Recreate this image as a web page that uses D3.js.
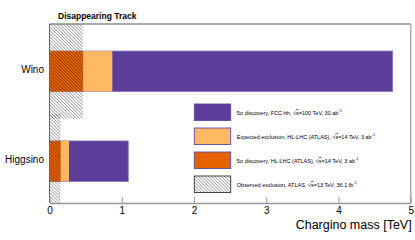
<!DOCTYPE html>
<html>
<head>
<meta charset="utf-8">
<script src="https://cdn.jsdelivr.net/npm/d3@7"></script>
<style>
  body { margin: 0; background: #fff; }
  svg { display: block; font-family: "Liberation Sans", Arial, Helvetica, sans-serif; }
</style>
</head>
<body>
<script>
// chart values (chargino mass reach in TeV)
var categories = ['Wino', 'Higgsino'];
var fccDiscovery = [4.75, 1.09];      // 5 sigma discovery, FCC-hh
var hllhcExclusion = [0.87, 0.27];    // expected exclusion, HL-LHC
var hllhcDiscovery = [0.465, 0.155];  // 5 sigma discovery, HL-LHC
var atlasObserved = [0.46, 0.15];     // observed exclusion, ATLAS 13 TeV
var xTicks = [0, 1, 2, 3, 4, 5];

var legendLabels = ['5\u03c3 discovery, FCC-hh, ', 'Expected exclusion, HL-LHC (ATLAS), ',
                    '5\u03c3 discovery, HL-LHC (ATLAS), ', 'Observed exclusion, ATLAS, '];
var legendEnergy = ['100', '14', '14', '13'];
var legendLumi = ['30 ab', '3 ab', '3 ab', '36.1 fb'];
var legendFills = ['#5e3c99', '#fdb863', '#e66101', 'url(#hatch)'];

var width = 415,
    height = 240,
    margin = { top: 24, right: 4.3, bottom: 37, left: 49.5 };

var svg = d3.select('body').append('svg')
    .attr('width', width)
    .attr('height', height);

var innerW = width - margin.left - margin.right,
    innerH = height - margin.top - margin.bottom;

var xScale = d3.scaleLinear().domain([0, 5]).range([0, innerW]);
// categories sit on integer positions, Higgsino at 0 and Wino at 1
var yScale = d3.scaleLinear().domain([-0.465, 1.526]).range([innerH, 0]);
var catPos = function(i) { return categories.length - 1 - i; };
var barHalf = 0.225, bandHalf = 0.525;

var defs = svg.append('defs');
defs.append('pattern')
    .attr('id', 'hatch')
    .attr('patternUnits', 'userSpaceOnUse')
    .attr('width', 2.3).attr('height', 2.3)
    .attr('patternTransform', 'rotate(-45)')
  .append('line')
    .attr('x1', 0).attr('y1', -1).attr('x2', 0).attr('y2', 4)
    .attr('stroke', '#000').attr('stroke-width', 0.6);

defs.append('clipPath').attr('id', 'plotclip')
  .append('rect').attr('width', innerW).attr('height', innerH);

var g = svg.append('g')
    .attr('transform', 'translate(' + margin.left + ',' + margin.top + ')');

var plot = g.append('g').attr('clip-path', 'url(#plotclip)');

function drawBars(values, fill, stroke) {
  plot.selectAll(null)
    .data(values)
    .enter().append('rect')
    .attr('x', xScale(0))
    .attr('y', function(d, i) { return yScale(catPos(i) + barHalf); })
    .attr('width', function(d) { return xScale(d) - xScale(0); })
    .attr('height', function(d, i) { return yScale(catPos(i) - barHalf) - yScale(catPos(i) + barHalf); })
    .attr('fill', fill)
    .attr('stroke', stroke || 'none')
    .attr('stroke-width', 0.8);
}

drawBars(fccDiscovery, '#5e3c99', '#8270c2');
drawBars(hllhcExclusion, '#fdb863');
drawBars(hllhcDiscovery, '#e66101');

// hatched observed exclusion covers the whole category band
plot.selectAll('.obs')
  .data(atlasObserved)
  .enter().append('rect')
  .attr('class', 'obs')
  .attr('x', xScale(0))
  .attr('y', function(d, i) { return yScale(catPos(i) + bandHalf); })
  .attr('width', function(d) { return xScale(d) - xScale(0); })
  .attr('height', function(d, i) { return yScale(catPos(i) - bandHalf) - yScale(catPos(i) + bandHalf); })
  .attr('fill', 'url(#hatch)');

// frame
g.append('line').attr('x1', 0).attr('x2', innerW).attr('y1', 0).attr('y2', 0)
  .attr('stroke', '#555').attr('stroke-width', 1);
g.append('line').attr('x1', 0).attr('x2', 0).attr('y1', 0).attr('y2', innerH)
  .attr('stroke', '#666').attr('stroke-width', 1);
g.append('line').attr('x1', innerW).attr('x2', innerW).attr('y1', 0).attr('y2', innerH)
  .attr('stroke', '#aaa').attr('stroke-width', 1.5);

// x axis, ticks pointing inward
var xAxis = d3.axisBottom(xScale).tickValues(xTicks).tickFormat(d3.format('d'))
    .tickSizeInner(-6).tickSizeOuter(0).tickPadding(4);
var ax = g.append('g')
    .attr('transform', 'translate(0,' + innerH + ')')
    .call(xAxis);
ax.select('.domain').attr('stroke', '#999').attr('stroke-width', 1.5);
ax.selectAll('.tick line').attr('stroke', '#999').attr('stroke-width', 1);
ax.selectAll('.tick text')
    .attr('font-size', 10).attr('fill', '#000')
    .attr('font-family', '"Liberation Sans", Arial, sans-serif');

svg.append('text')
    .attr('x', width - margin.right + 1)
    .attr('y', 229)
    .attr('text-anchor', 'end')
    .attr('font-size', 12.5)
    .text('Chargino mass [TeV]');

// category labels
g.selectAll('.cat')
  .data(categories)
  .enter().append('text')
  .attr('class', 'cat')
  .attr('x', -5.5)
  .attr('y', function(d, i) { return yScale(catPos(i)) + 2; })
  .attr('text-anchor', 'end')
  .attr('font-size', 10)
  .text(function(d) { return d; });

svg.append('text')
    .attr('x', 58)
    .attr('y', 18.5)
    .attr('font-size', 8.5)
    .attr('font-weight', 'bold')
    .text('Disappearing Track');

// legend
var legend = svg.append('g').attr('transform', 'translate(194.3,104)');
var item = legend.selectAll('.item')
  .data(legendLabels)
  .enter().append('g')
  .attr('class', 'item')
  .attr('transform', function(d, i) { return 'translate(0,' + (i * 24) + ')'; });

item.append('rect')
  .attr('width', 36.4).attr('height', 16.5)
  .attr('fill', function(d, i) { return legendFills[i]; })
  .attr('stroke', function(d, i) { return i < 3 ? '#5a4aa8' : '#333'; })
  .attr('stroke-width', 0.9);

var lt = item.append('text')
  .attr('x', 42.5)
  .attr('y', 10.5)
  .attr('font-size', 5.5);
lt.append('tspan').text(function(d) { return d; });
lt.append('tspan').text('\u221a');
lt.append('tspan').attr('text-decoration', 'overline').text('s');
lt.append('tspan').text(function(d, i) { return '=' + legendEnergy[i] + ' TeV, ' + legendLumi[i]; });
lt.append('tspan').attr('dy', -2.2).attr('font-size', 3.8).text('-1');
</script>
</body>
</html>
